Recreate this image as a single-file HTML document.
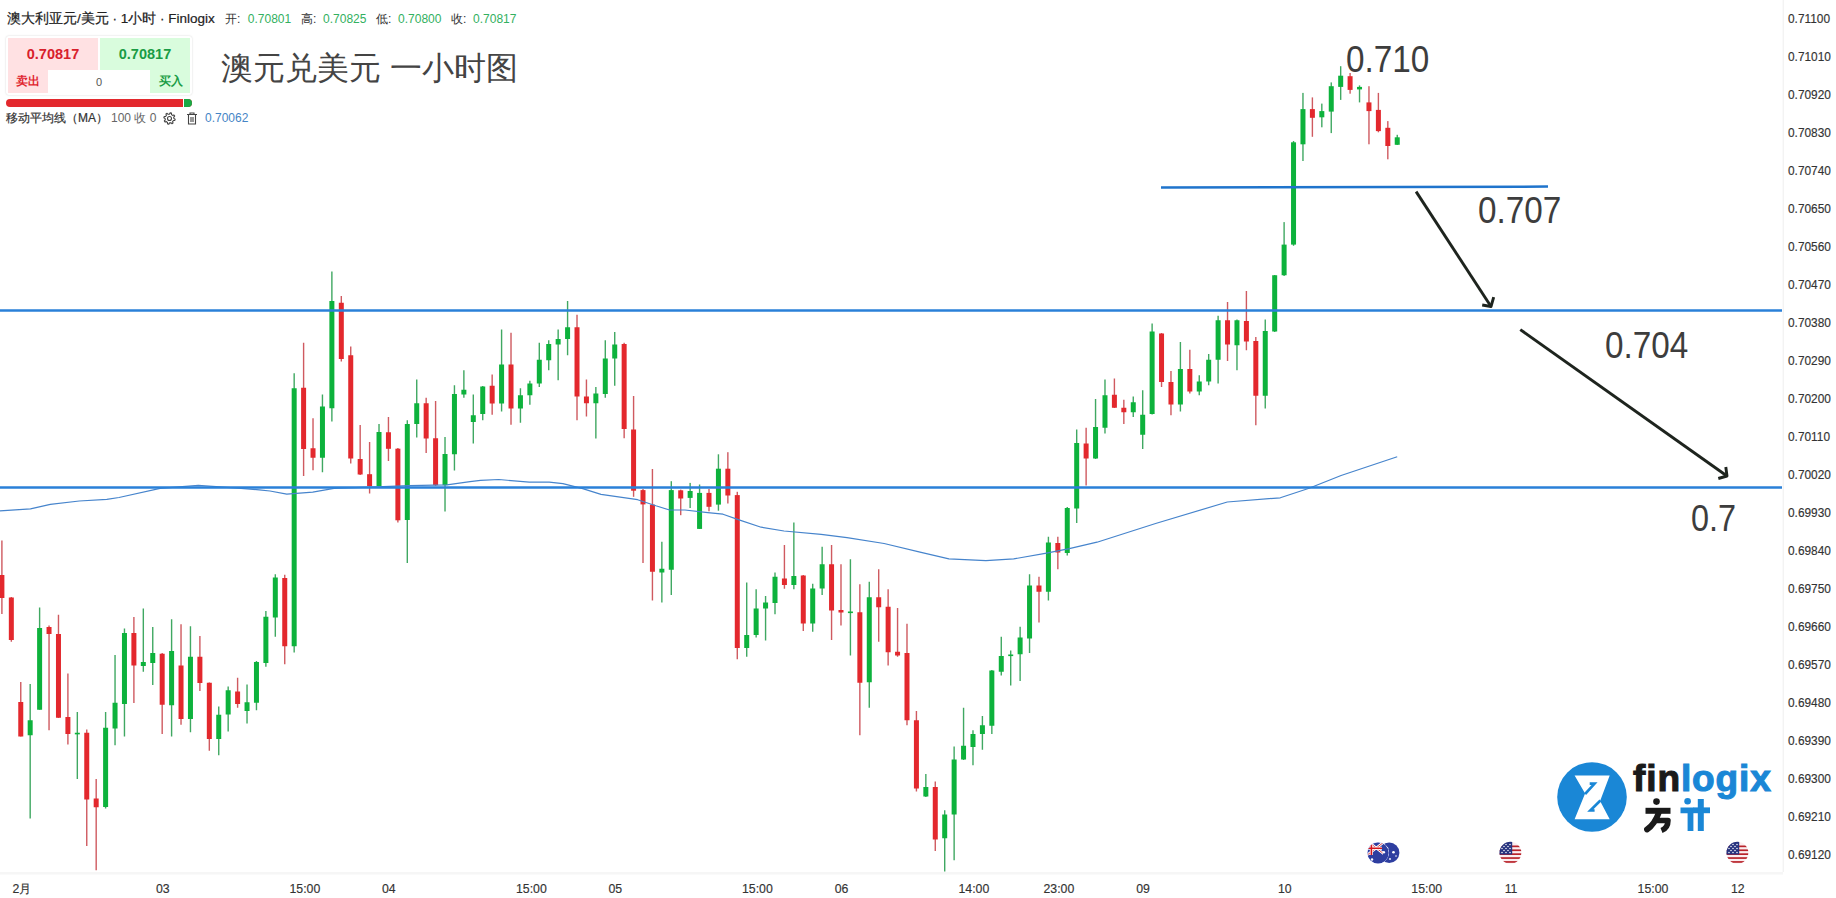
<!DOCTYPE html>
<html><head><meta charset="utf-8">
<style>
html,body{margin:0;padding:0;background:#fff;}
body{width:1836px;height:898px;position:relative;overflow:hidden;font-family:"Liberation Sans",sans-serif;color:#333;}
.a{position:absolute;white-space:nowrap;}
.pl{position:absolute;left:1787.5px;font-size:12.3px;line-height:14px;color:#333;transform:scaleX(0.965);transform-origin:0 0;-webkit-text-stroke:0.15px #333;}
.tl{position:absolute;top:881.5px;font-size:12.3px;line-height:14px;color:#333;-webkit-text-stroke:0.15px #333;}
.ann{position:absolute;font-size:36px;line-height:36px;color:#3d3d3d;transform-origin:0 0;}
svg{position:absolute;left:0;top:0;}
</style></head><body>
<svg width="1836" height="898" viewBox="0 0 1836 898">
<rect x="1.20" y="540.50" width="1.4" height="73.50" fill="#cf5a60"/>
<rect x="-0.60" y="575.00" width="5.0" height="23.00" fill="#e3282d"/>
<rect x="10.63" y="597.00" width="1.4" height="44.75" fill="#cf5a60"/>
<rect x="8.83" y="597.50" width="5.0" height="42.50" fill="#e3282d"/>
<rect x="20.06" y="682.00" width="1.4" height="54.50" fill="#cf5a60"/>
<rect x="18.26" y="702.00" width="5.0" height="34.50" fill="#e3282d"/>
<rect x="29.48" y="684.00" width="1.4" height="134.50" fill="#40a862"/>
<rect x="27.68" y="720.25" width="5.0" height="15.00" fill="#0db23c"/>
<rect x="38.91" y="607.50" width="1.4" height="102.25" fill="#40a862"/>
<rect x="37.11" y="628.00" width="5.0" height="81.75" fill="#0db23c"/>
<rect x="48.34" y="625.50" width="1.4" height="104.75" fill="#cf5a60"/>
<rect x="46.54" y="627.00" width="5.0" height="7.00" fill="#e3282d"/>
<rect x="57.77" y="614.75" width="1.4" height="103.25" fill="#cf5a60"/>
<rect x="55.97" y="634.00" width="5.0" height="83.75" fill="#e3282d"/>
<rect x="67.20" y="673.50" width="1.4" height="71.00" fill="#cf5a60"/>
<rect x="65.40" y="717.00" width="5.0" height="17.00" fill="#e3282d"/>
<rect x="76.62" y="712.00" width="1.4" height="67.00" fill="#40a862"/>
<rect x="74.82" y="732.75" width="5.0" height="1.60" fill="#0db23c"/>
<rect x="86.05" y="729.50" width="1.4" height="116.50" fill="#cf5a60"/>
<rect x="84.25" y="732.75" width="5.0" height="66.75" fill="#e3282d"/>
<rect x="95.48" y="779.00" width="1.4" height="91.25" fill="#cf5a60"/>
<rect x="93.68" y="798.50" width="5.0" height="8.75" fill="#e3282d"/>
<rect x="104.91" y="712.00" width="1.4" height="96.50" fill="#40a862"/>
<rect x="103.11" y="727.75" width="5.0" height="79.25" fill="#0db23c"/>
<rect x="114.34" y="655.00" width="1.4" height="90.25" fill="#40a862"/>
<rect x="112.54" y="702.75" width="5.0" height="25.75" fill="#0db23c"/>
<rect x="123.76" y="628.50" width="1.4" height="108.00" fill="#40a862"/>
<rect x="121.96" y="633.00" width="5.0" height="71.00" fill="#0db23c"/>
<rect x="133.19" y="617.00" width="1.4" height="86.00" fill="#cf5a60"/>
<rect x="131.39" y="633.00" width="5.0" height="32.50" fill="#e3282d"/>
<rect x="142.62" y="608.50" width="1.4" height="63.25" fill="#40a862"/>
<rect x="140.82" y="662.00" width="5.0" height="4.00" fill="#0db23c"/>
<rect x="152.05" y="627.00" width="1.4" height="58.00" fill="#40a862"/>
<rect x="150.25" y="653.00" width="5.0" height="10.00" fill="#0db23c"/>
<rect x="161.48" y="653.00" width="1.4" height="81.00" fill="#cf5a60"/>
<rect x="159.68" y="653.75" width="5.0" height="51.00" fill="#e3282d"/>
<rect x="170.90" y="619.25" width="1.4" height="117.25" fill="#40a862"/>
<rect x="169.10" y="651.00" width="5.0" height="54.25" fill="#0db23c"/>
<rect x="180.33" y="624.25" width="1.4" height="100.50" fill="#cf5a60"/>
<rect x="178.53" y="665.50" width="5.0" height="53.50" fill="#e3282d"/>
<rect x="189.76" y="626.25" width="1.4" height="106.00" fill="#40a862"/>
<rect x="187.96" y="656.75" width="5.0" height="62.25" fill="#0db23c"/>
<rect x="199.19" y="636.00" width="1.4" height="55.00" fill="#cf5a60"/>
<rect x="197.39" y="656.75" width="5.0" height="26.25" fill="#e3282d"/>
<rect x="208.62" y="682.50" width="1.4" height="68.25" fill="#cf5a60"/>
<rect x="206.82" y="682.75" width="5.0" height="56.25" fill="#e3282d"/>
<rect x="218.04" y="706.50" width="1.4" height="48.75" fill="#40a862"/>
<rect x="216.24" y="714.75" width="5.0" height="24.25" fill="#0db23c"/>
<rect x="227.47" y="686.50" width="1.4" height="45.00" fill="#40a862"/>
<rect x="225.67" y="690.25" width="5.0" height="24.25" fill="#0db23c"/>
<rect x="236.90" y="677.75" width="1.4" height="30.00" fill="#cf5a60"/>
<rect x="235.10" y="691.50" width="5.0" height="12.50" fill="#e3282d"/>
<rect x="246.33" y="684.50" width="1.4" height="39.00" fill="#40a862"/>
<rect x="244.53" y="702.25" width="5.0" height="8.75" fill="#0db23c"/>
<rect x="255.76" y="661.00" width="1.4" height="49.25" fill="#40a862"/>
<rect x="253.96" y="662.00" width="5.0" height="40.75" fill="#0db23c"/>
<rect x="265.18" y="611.00" width="1.4" height="55.75" fill="#40a862"/>
<rect x="263.38" y="616.75" width="5.0" height="46.25" fill="#0db23c"/>
<rect x="274.61" y="574.25" width="1.4" height="62.50" fill="#40a862"/>
<rect x="272.81" y="577.50" width="5.0" height="40.00" fill="#0db23c"/>
<rect x="284.04" y="574.75" width="1.4" height="89.50" fill="#cf5a60"/>
<rect x="282.24" y="578.00" width="5.0" height="68.25" fill="#e3282d"/>
<rect x="293.47" y="373.25" width="1.4" height="279.25" fill="#40a862"/>
<rect x="291.67" y="388.25" width="5.0" height="258.00" fill="#0db23c"/>
<rect x="302.90" y="342.75" width="1.4" height="133.25" fill="#cf5a60"/>
<rect x="301.10" y="387.75" width="5.0" height="61.25" fill="#e3282d"/>
<rect x="312.32" y="418.25" width="1.4" height="52.00" fill="#cf5a60"/>
<rect x="310.52" y="448.25" width="5.0" height="9.50" fill="#e3282d"/>
<rect x="321.75" y="394.50" width="1.4" height="77.75" fill="#40a862"/>
<rect x="319.95" y="406.50" width="5.0" height="51.25" fill="#0db23c"/>
<rect x="331.18" y="271.50" width="1.4" height="150.00" fill="#40a862"/>
<rect x="329.38" y="301.00" width="5.0" height="107.25" fill="#0db23c"/>
<rect x="340.61" y="296.00" width="1.4" height="65.50" fill="#cf5a60"/>
<rect x="338.81" y="302.75" width="5.0" height="56.25" fill="#e3282d"/>
<rect x="350.04" y="346.50" width="1.4" height="117.00" fill="#cf5a60"/>
<rect x="348.24" y="355.25" width="5.0" height="103.25" fill="#e3282d"/>
<rect x="359.46" y="425.00" width="1.4" height="50.00" fill="#cf5a60"/>
<rect x="357.66" y="459.00" width="5.0" height="15.50" fill="#e3282d"/>
<rect x="368.89" y="442.00" width="1.4" height="51.50" fill="#cf5a60"/>
<rect x="367.09" y="474.20" width="5.0" height="12.00" fill="#e3282d"/>
<rect x="378.32" y="424.00" width="1.4" height="62.50" fill="#40a862"/>
<rect x="376.52" y="432.00" width="5.0" height="54.20" fill="#0db23c"/>
<rect x="387.75" y="417.00" width="1.4" height="44.00" fill="#cf5a60"/>
<rect x="385.95" y="432.25" width="5.0" height="16.55" fill="#e3282d"/>
<rect x="397.18" y="448.00" width="1.4" height="74.50" fill="#cf5a60"/>
<rect x="395.38" y="448.70" width="5.0" height="71.60" fill="#e3282d"/>
<rect x="406.60" y="420.25" width="1.4" height="142.75" fill="#40a862"/>
<rect x="404.80" y="424.00" width="5.0" height="96.00" fill="#0db23c"/>
<rect x="416.03" y="379.50" width="1.4" height="58.00" fill="#40a862"/>
<rect x="414.23" y="403.25" width="5.0" height="20.75" fill="#0db23c"/>
<rect x="425.46" y="397.75" width="1.4" height="55.25" fill="#cf5a60"/>
<rect x="423.66" y="403.25" width="5.0" height="35.25" fill="#e3282d"/>
<rect x="434.89" y="401.00" width="1.4" height="85.00" fill="#cf5a60"/>
<rect x="433.09" y="438.25" width="5.0" height="46.95" fill="#e3282d"/>
<rect x="444.32" y="437.00" width="1.4" height="74.50" fill="#40a862"/>
<rect x="442.52" y="454.00" width="5.0" height="31.20" fill="#0db23c"/>
<rect x="453.74" y="385.25" width="1.4" height="85.25" fill="#40a862"/>
<rect x="451.94" y="394.00" width="5.0" height="60.25" fill="#0db23c"/>
<rect x="463.17" y="370.25" width="1.4" height="27.50" fill="#40a862"/>
<rect x="461.37" y="389.75" width="5.0" height="4.75" fill="#0db23c"/>
<rect x="472.60" y="394.50" width="1.4" height="49.00" fill="#40a862"/>
<rect x="470.80" y="415.25" width="5.0" height="6.75" fill="#0db23c"/>
<rect x="482.03" y="386.00" width="1.4" height="34.25" fill="#40a862"/>
<rect x="480.23" y="386.50" width="5.0" height="27.50" fill="#0db23c"/>
<rect x="491.46" y="374.50" width="1.4" height="40.25" fill="#cf5a60"/>
<rect x="489.66" y="385.75" width="5.0" height="17.75" fill="#e3282d"/>
<rect x="500.88" y="329.50" width="1.4" height="82.00" fill="#40a862"/>
<rect x="499.08" y="364.50" width="5.0" height="39.00" fill="#0db23c"/>
<rect x="510.31" y="332.75" width="1.4" height="92.00" fill="#cf5a60"/>
<rect x="508.51" y="364.50" width="5.0" height="44.00" fill="#e3282d"/>
<rect x="519.74" y="388.25" width="1.4" height="34.50" fill="#40a862"/>
<rect x="517.94" y="395.25" width="5.0" height="13.25" fill="#0db23c"/>
<rect x="529.17" y="380.75" width="1.4" height="24.00" fill="#40a862"/>
<rect x="527.37" y="383.50" width="5.0" height="11.75" fill="#0db23c"/>
<rect x="538.60" y="342.75" width="1.4" height="44.25" fill="#40a862"/>
<rect x="536.80" y="359.75" width="5.0" height="23.75" fill="#0db23c"/>
<rect x="548.02" y="340.25" width="1.4" height="30.00" fill="#40a862"/>
<rect x="546.22" y="344.00" width="5.0" height="16.25" fill="#0db23c"/>
<rect x="557.45" y="329.50" width="1.4" height="50.75" fill="#40a862"/>
<rect x="555.65" y="339.00" width="5.0" height="5.50" fill="#0db23c"/>
<rect x="566.88" y="301.00" width="1.4" height="54.25" fill="#40a862"/>
<rect x="565.08" y="327.25" width="5.0" height="11.75" fill="#0db23c"/>
<rect x="576.31" y="314.75" width="1.4" height="105.50" fill="#cf5a60"/>
<rect x="574.51" y="327.25" width="5.0" height="69.25" fill="#e3282d"/>
<rect x="585.74" y="379.50" width="1.4" height="37.00" fill="#cf5a60"/>
<rect x="583.94" y="396.50" width="5.0" height="6.75" fill="#e3282d"/>
<rect x="595.16" y="387.00" width="1.4" height="51.50" fill="#40a862"/>
<rect x="593.36" y="393.50" width="5.0" height="9.75" fill="#0db23c"/>
<rect x="604.59" y="340.25" width="1.4" height="57.50" fill="#40a862"/>
<rect x="602.79" y="358.50" width="5.0" height="35.50" fill="#0db23c"/>
<rect x="614.02" y="332.00" width="1.4" height="53.75" fill="#40a862"/>
<rect x="612.22" y="344.50" width="5.0" height="14.00" fill="#0db23c"/>
<rect x="623.45" y="342.75" width="1.4" height="95.50" fill="#cf5a60"/>
<rect x="621.65" y="344.00" width="5.0" height="85.00" fill="#e3282d"/>
<rect x="632.88" y="396.00" width="1.4" height="100.80" fill="#cf5a60"/>
<rect x="631.08" y="429.50" width="5.0" height="61.20" fill="#e3282d"/>
<rect x="642.30" y="489.00" width="1.4" height="74.00" fill="#cf5a60"/>
<rect x="640.50" y="490.10" width="5.0" height="14.30" fill="#e3282d"/>
<rect x="651.73" y="469.00" width="1.4" height="131.50" fill="#cf5a60"/>
<rect x="649.93" y="504.60" width="5.0" height="67.15" fill="#e3282d"/>
<rect x="661.16" y="541.75" width="1.4" height="60.75" fill="#40a862"/>
<rect x="659.36" y="568.75" width="5.0" height="3.75" fill="#0db23c"/>
<rect x="670.59" y="481.20" width="1.4" height="113.80" fill="#40a862"/>
<rect x="668.79" y="490.10" width="5.0" height="79.65" fill="#0db23c"/>
<rect x="680.02" y="489.60" width="1.4" height="25.60" fill="#cf5a60"/>
<rect x="678.22" y="490.30" width="5.0" height="8.20" fill="#e3282d"/>
<rect x="689.44" y="482.90" width="1.4" height="25.10" fill="#40a862"/>
<rect x="687.64" y="491.00" width="5.0" height="6.90" fill="#0db23c"/>
<rect x="698.87" y="484.50" width="1.4" height="44.50" fill="#40a862"/>
<rect x="697.07" y="492.90" width="5.0" height="36.00" fill="#0db23c"/>
<rect x="708.30" y="489.00" width="1.4" height="22.30" fill="#cf5a60"/>
<rect x="706.50" y="492.90" width="5.0" height="13.90" fill="#e3282d"/>
<rect x="717.73" y="454.30" width="1.4" height="56.40" fill="#40a862"/>
<rect x="715.93" y="468.70" width="5.0" height="35.90" fill="#0db23c"/>
<rect x="727.16" y="452.20" width="1.4" height="51.30" fill="#cf5a60"/>
<rect x="725.36" y="468.70" width="5.0" height="26.80" fill="#e3282d"/>
<rect x="736.58" y="491.80" width="1.4" height="167.45" fill="#cf5a60"/>
<rect x="734.78" y="495.10" width="5.0" height="152.90" fill="#e3282d"/>
<rect x="746.01" y="582.50" width="1.4" height="74.25" fill="#40a862"/>
<rect x="744.21" y="635.00" width="5.0" height="13.00" fill="#0db23c"/>
<rect x="755.44" y="589.25" width="1.4" height="48.25" fill="#40a862"/>
<rect x="753.64" y="608.50" width="5.0" height="26.50" fill="#0db23c"/>
<rect x="764.87" y="596.00" width="1.4" height="44.50" fill="#40a862"/>
<rect x="763.07" y="602.50" width="5.0" height="6.00" fill="#0db23c"/>
<rect x="774.30" y="572.50" width="1.4" height="41.75" fill="#40a862"/>
<rect x="772.50" y="576.75" width="5.0" height="26.25" fill="#0db23c"/>
<rect x="783.72" y="545.00" width="1.4" height="43.75" fill="#cf5a60"/>
<rect x="781.92" y="578.50" width="5.0" height="6.50" fill="#e3282d"/>
<rect x="793.15" y="522.50" width="1.4" height="66.75" fill="#40a862"/>
<rect x="791.35" y="576.00" width="5.0" height="9.00" fill="#0db23c"/>
<rect x="802.58" y="575.00" width="1.4" height="56.00" fill="#cf5a60"/>
<rect x="800.78" y="575.50" width="5.0" height="48.00" fill="#e3282d"/>
<rect x="812.01" y="583.75" width="1.4" height="48.00" fill="#40a862"/>
<rect x="810.21" y="588.50" width="5.0" height="35.00" fill="#0db23c"/>
<rect x="821.44" y="546.75" width="1.4" height="48.25" fill="#40a862"/>
<rect x="819.64" y="564.25" width="5.0" height="24.25" fill="#0db23c"/>
<rect x="830.86" y="545.00" width="1.4" height="95.00" fill="#cf5a60"/>
<rect x="829.06" y="564.25" width="5.0" height="46.25" fill="#e3282d"/>
<rect x="840.29" y="564.25" width="1.4" height="61.25" fill="#cf5a60"/>
<rect x="838.49" y="610.00" width="5.0" height="2.50" fill="#e3282d"/>
<rect x="849.72" y="559.25" width="1.4" height="96.25" fill="#40a862"/>
<rect x="847.92" y="611.50" width="5.0" height="1.60" fill="#0db23c"/>
<rect x="859.15" y="584.25" width="1.4" height="151.00" fill="#cf5a60"/>
<rect x="857.35" y="612.25" width="5.0" height="70.50" fill="#e3282d"/>
<rect x="868.58" y="581.75" width="1.4" height="126.00" fill="#40a862"/>
<rect x="866.78" y="597.25" width="5.0" height="85.00" fill="#0db23c"/>
<rect x="878.00" y="569.25" width="1.4" height="72.50" fill="#cf5a60"/>
<rect x="876.20" y="597.25" width="5.0" height="10.00" fill="#e3282d"/>
<rect x="887.43" y="589.25" width="1.4" height="76.25" fill="#cf5a60"/>
<rect x="885.63" y="606.75" width="5.0" height="45.50" fill="#e3282d"/>
<rect x="896.86" y="608.00" width="1.4" height="48.75" fill="#cf5a60"/>
<rect x="895.06" y="651.75" width="5.0" height="3.75" fill="#e3282d"/>
<rect x="906.29" y="623.75" width="1.4" height="101.50" fill="#cf5a60"/>
<rect x="904.49" y="653.00" width="5.0" height="67.25" fill="#e3282d"/>
<rect x="915.72" y="711.00" width="1.4" height="80.50" fill="#cf5a60"/>
<rect x="913.92" y="720.25" width="5.0" height="68.25" fill="#e3282d"/>
<rect x="925.14" y="774.00" width="1.4" height="23.00" fill="#40a862"/>
<rect x="923.34" y="787.00" width="5.0" height="9.50" fill="#0db23c"/>
<rect x="934.57" y="781.50" width="1.4" height="69.50" fill="#cf5a60"/>
<rect x="932.77" y="787.00" width="5.0" height="52.50" fill="#e3282d"/>
<rect x="944.00" y="810.25" width="1.4" height="61.25" fill="#40a862"/>
<rect x="942.20" y="814.50" width="5.0" height="23.75" fill="#0db23c"/>
<rect x="953.43" y="746.50" width="1.4" height="113.75" fill="#40a862"/>
<rect x="951.63" y="759.50" width="5.0" height="55.00" fill="#0db23c"/>
<rect x="962.86" y="707.75" width="1.4" height="52.25" fill="#40a862"/>
<rect x="961.06" y="745.75" width="5.0" height="13.75" fill="#0db23c"/>
<rect x="972.28" y="730.25" width="1.4" height="35.00" fill="#40a862"/>
<rect x="970.48" y="734.00" width="5.0" height="13.00" fill="#0db23c"/>
<rect x="981.71" y="716.00" width="1.4" height="33.75" fill="#40a862"/>
<rect x="979.91" y="725.25" width="5.0" height="8.75" fill="#0db23c"/>
<rect x="991.14" y="670.00" width="1.4" height="64.00" fill="#40a862"/>
<rect x="989.34" y="670.50" width="5.0" height="55.25" fill="#0db23c"/>
<rect x="1000.57" y="636.75" width="1.4" height="38.75" fill="#40a862"/>
<rect x="998.77" y="656.00" width="5.0" height="15.75" fill="#0db23c"/>
<rect x="1010.00" y="650.50" width="1.4" height="35.00" fill="#40a862"/>
<rect x="1008.20" y="654.50" width="5.0" height="1.60" fill="#0db23c"/>
<rect x="1019.42" y="626.75" width="1.4" height="54.25" fill="#40a862"/>
<rect x="1017.62" y="637.50" width="5.0" height="16.75" fill="#0db23c"/>
<rect x="1028.85" y="574.25" width="1.4" height="78.75" fill="#40a862"/>
<rect x="1027.05" y="585.50" width="5.0" height="53.00" fill="#0db23c"/>
<rect x="1038.28" y="576.75" width="1.4" height="45.75" fill="#cf5a60"/>
<rect x="1036.48" y="585.50" width="5.0" height="6.25" fill="#e3282d"/>
<rect x="1047.71" y="536.75" width="1.4" height="63.75" fill="#40a862"/>
<rect x="1045.91" y="542.50" width="5.0" height="49.25" fill="#0db23c"/>
<rect x="1057.14" y="536.75" width="1.4" height="32.50" fill="#cf5a60"/>
<rect x="1055.34" y="543.00" width="5.0" height="9.50" fill="#e3282d"/>
<rect x="1066.56" y="507.00" width="1.4" height="48.50" fill="#40a862"/>
<rect x="1064.76" y="508.00" width="5.0" height="45.00" fill="#0db23c"/>
<rect x="1075.99" y="429.50" width="1.4" height="93.50" fill="#40a862"/>
<rect x="1074.19" y="443.00" width="5.0" height="65.50" fill="#0db23c"/>
<rect x="1085.42" y="427.75" width="1.4" height="57.75" fill="#cf5a60"/>
<rect x="1083.62" y="443.50" width="5.0" height="15.00" fill="#e3282d"/>
<rect x="1094.85" y="399.00" width="1.4" height="60.00" fill="#40a862"/>
<rect x="1093.05" y="427.00" width="5.0" height="31.50" fill="#0db23c"/>
<rect x="1104.28" y="379.50" width="1.4" height="54.00" fill="#40a862"/>
<rect x="1102.48" y="395.25" width="5.0" height="32.50" fill="#0db23c"/>
<rect x="1113.70" y="378.50" width="1.4" height="29.50" fill="#cf5a60"/>
<rect x="1111.90" y="394.75" width="5.0" height="13.00" fill="#e3282d"/>
<rect x="1123.13" y="399.75" width="1.4" height="24.25" fill="#cf5a60"/>
<rect x="1121.33" y="407.75" width="5.0" height="4.50" fill="#e3282d"/>
<rect x="1132.56" y="396.50" width="1.4" height="20.50" fill="#40a862"/>
<rect x="1130.76" y="402.25" width="5.0" height="10.00" fill="#0db23c"/>
<rect x="1141.99" y="390.25" width="1.4" height="58.75" fill="#40a862"/>
<rect x="1140.19" y="414.75" width="5.0" height="20.00" fill="#0db23c"/>
<rect x="1151.42" y="323.50" width="1.4" height="91.00" fill="#40a862"/>
<rect x="1149.62" y="331.50" width="5.0" height="82.50" fill="#0db23c"/>
<rect x="1160.84" y="333.00" width="1.4" height="54.00" fill="#cf5a60"/>
<rect x="1159.04" y="333.50" width="5.0" height="48.50" fill="#e3282d"/>
<rect x="1170.27" y="371.00" width="1.4" height="44.25" fill="#cf5a60"/>
<rect x="1168.47" y="382.00" width="5.0" height="22.50" fill="#e3282d"/>
<rect x="1179.70" y="342.00" width="1.4" height="69.50" fill="#40a862"/>
<rect x="1177.90" y="369.00" width="5.0" height="35.50" fill="#0db23c"/>
<rect x="1189.13" y="349.75" width="1.4" height="43.75" fill="#cf5a60"/>
<rect x="1187.33" y="369.00" width="5.0" height="22.50" fill="#e3282d"/>
<rect x="1198.56" y="375.25" width="1.4" height="20.00" fill="#40a862"/>
<rect x="1196.76" y="381.50" width="5.0" height="10.00" fill="#0db23c"/>
<rect x="1207.98" y="354.00" width="1.4" height="31.25" fill="#40a862"/>
<rect x="1206.18" y="359.75" width="5.0" height="21.75" fill="#0db23c"/>
<rect x="1217.41" y="315.75" width="1.4" height="67.75" fill="#40a862"/>
<rect x="1215.61" y="320.25" width="5.0" height="39.50" fill="#0db23c"/>
<rect x="1226.84" y="302.00" width="1.4" height="59.00" fill="#cf5a60"/>
<rect x="1225.04" y="320.25" width="5.0" height="24.25" fill="#e3282d"/>
<rect x="1236.27" y="319.50" width="1.4" height="50.75" fill="#40a862"/>
<rect x="1234.47" y="320.25" width="5.0" height="25.00" fill="#0db23c"/>
<rect x="1245.70" y="291.00" width="1.4" height="59.25" fill="#cf5a60"/>
<rect x="1243.90" y="321.00" width="5.0" height="20.50" fill="#e3282d"/>
<rect x="1255.12" y="337.00" width="1.4" height="88.25" fill="#cf5a60"/>
<rect x="1253.32" y="341.00" width="5.0" height="54.75" fill="#e3282d"/>
<rect x="1264.55" y="319.50" width="1.4" height="89.00" fill="#40a862"/>
<rect x="1262.75" y="331.00" width="5.0" height="64.75" fill="#0db23c"/>
<rect x="1273.98" y="275.00" width="1.4" height="57.00" fill="#40a862"/>
<rect x="1272.18" y="275.25" width="5.0" height="56.25" fill="#0db23c"/>
<rect x="1283.41" y="222.10" width="1.4" height="53.90" fill="#40a862"/>
<rect x="1281.61" y="244.60" width="5.0" height="30.65" fill="#0db23c"/>
<rect x="1292.84" y="141.00" width="1.4" height="104.80" fill="#40a862"/>
<rect x="1291.04" y="142.30" width="5.0" height="102.30" fill="#0db23c"/>
<rect x="1302.26" y="92.90" width="1.4" height="68.10" fill="#40a862"/>
<rect x="1300.46" y="109.10" width="5.0" height="35.20" fill="#0db23c"/>
<rect x="1311.69" y="97.40" width="1.4" height="39.40" fill="#cf5a60"/>
<rect x="1309.89" y="109.10" width="5.0" height="8.70" fill="#e3282d"/>
<rect x="1321.12" y="103.60" width="1.4" height="23.70" fill="#40a862"/>
<rect x="1319.32" y="111.10" width="5.0" height="6.20" fill="#0db23c"/>
<rect x="1330.55" y="82.40" width="1.4" height="50.70" fill="#40a862"/>
<rect x="1328.75" y="86.20" width="5.0" height="25.40" fill="#0db23c"/>
<rect x="1339.98" y="66.20" width="1.4" height="33.70" fill="#40a862"/>
<rect x="1338.18" y="75.70" width="5.0" height="11.20" fill="#0db23c"/>
<rect x="1349.40" y="73.00" width="1.4" height="20.70" fill="#cf5a60"/>
<rect x="1347.60" y="76.20" width="5.0" height="13.70" fill="#e3282d"/>
<rect x="1358.83" y="85.40" width="1.4" height="17.00" fill="#40a862"/>
<rect x="1357.03" y="86.90" width="5.0" height="2.50" fill="#0db23c"/>
<rect x="1368.26" y="86.20" width="1.4" height="58.10" fill="#cf5a60"/>
<rect x="1366.46" y="102.40" width="5.0" height="8.70" fill="#e3282d"/>
<rect x="1377.69" y="92.90" width="1.4" height="39.40" fill="#cf5a60"/>
<rect x="1375.89" y="109.90" width="5.0" height="21.20" fill="#e3282d"/>
<rect x="1387.12" y="121.10" width="1.4" height="38.20" fill="#cf5a60"/>
<rect x="1385.32" y="127.80" width="5.0" height="18.20" fill="#e3282d"/>
<rect x="1396.54" y="134.80" width="1.4" height="10.20" fill="#40a862"/>
<rect x="1394.74" y="137.30" width="5.0" height="7.50" fill="#0db23c"/>
<polyline points="0,510.9 30.5,508.9 50.3,504.3 79.3,501 106.8,499.3 119,497.5 160.1,488.3 198.3,485.3 241,488.3 259.3,489.8 270,491 286.8,494.1 312.7,492.1 334,488.3 376.8,486.8 409,485.6 447,484.8 470,481.6 480.5,480.4 498.8,479.5 529.3,482.2 549.2,482.2 562.9,483.7 582.7,488.6 601,494.4 637.6,499.7 655.9,505.8 669.6,510 684.9,510 707.8,512.7 723,514.2 738.3,519.6 761.1,527.2 784,531 821.1,534.3 847,537.6 884.1,543.5 921.1,552.4 948.9,558.9 985.9,560.7 1013.7,558.9 1045.2,553.3 1069.3,548.7 1097,542.2 1155.6,523.5 1227.3,502 1280.3,497.8 1308.4,488.5 1341.1,475.5 1397.2,456.8" fill="none" stroke="#4684cc" stroke-width="1.2" stroke-linejoin="round"/>
<line x1="0" y1="310.5" x2="1782" y2="310.5" stroke="#2a80d8" stroke-width="2.7"/>
<line x1="0" y1="487.5" x2="1782" y2="487.5" stroke="#2a80d8" stroke-width="2.7"/>
<line x1="1161" y1="187.6" x2="1548" y2="186.6" stroke="#1f74cc" stroke-width="2.5"/>
<line x1="1416.1" y1="191.6" x2="1491" y2="306.5" stroke="#1e241e" stroke-width="2.9"/>
<polyline points="1482.2,305.0 1491,306.5 1493.7,297.1" fill="none" stroke="#1e241e" stroke-width="2.9" stroke-linejoin="round"/>
<line x1="1520.3" y1="329.6" x2="1727" y2="476" stroke="#1e241e" stroke-width="2.9"/>
<polyline points="1718.3,478.5 1727,476 1725.8,467" fill="none" stroke="#1e241e" stroke-width="2.9" stroke-linejoin="round"/>
<line x1="1783.3" y1="0" x2="1783.3" y2="872" stroke="#f3f3f3" stroke-width="1.5"/>
<line x1="0" y1="873.3" x2="1783" y2="873.3" stroke="#f6f6f6" stroke-width="2.5"/>
</svg>
<div class="pl" style="top:11.5px">0.71100</div>
<div class="pl" style="top:49.5px">0.71010</div>
<div class="pl" style="top:87.5px">0.70920</div>
<div class="pl" style="top:125.5px">0.70830</div>
<div class="pl" style="top:163.5px">0.70740</div>
<div class="pl" style="top:201.5px">0.70650</div>
<div class="pl" style="top:239.6px">0.70560</div>
<div class="pl" style="top:277.6px">0.70470</div>
<div class="pl" style="top:315.6px">0.70380</div>
<div class="pl" style="top:353.6px">0.70290</div>
<div class="pl" style="top:391.6px">0.70200</div>
<div class="pl" style="top:429.6px">0.70110</div>
<div class="pl" style="top:467.6px">0.70020</div>
<div class="pl" style="top:505.6px">0.69930</div>
<div class="pl" style="top:543.6px">0.69840</div>
<div class="pl" style="top:581.6px">0.69750</div>
<div class="pl" style="top:619.7px">0.69660</div>
<div class="pl" style="top:657.7px">0.69570</div>
<div class="pl" style="top:695.7px">0.69480</div>
<div class="pl" style="top:733.7px">0.69390</div>
<div class="pl" style="top:771.7px">0.69300</div>
<div class="pl" style="top:809.7px">0.69210</div>
<div class="pl" style="top:847.7px">0.69120</div>
<div class="tl" style="left:12.5px">2月</div>
<div class="tl" style="left:156px">03</div>
<div class="tl" style="left:289.5px">15:00</div>
<div class="tl" style="left:382px">04</div>
<div class="tl" style="left:516px">15:00</div>
<div class="tl" style="left:608.5px">05</div>
<div class="tl" style="left:742px">15:00</div>
<div class="tl" style="left:834.75px">06</div>
<div class="tl" style="left:958.5px">14:00</div>
<div class="tl" style="left:1043.5px">23:00</div>
<div class="tl" style="left:1136.25px">09</div>
<div class="tl" style="left:1278px">10</div>
<div class="tl" style="left:1411.3px">15:00</div>
<div class="tl" style="left:1504.7px">11</div>
<div class="tl" style="left:1637.6px">15:00</div>
<div class="tl" style="left:1731px">12</div>
<div class="a" style="left:7px;top:11px;font-size:13.5px;line-height:16px;color:#222;-webkit-text-stroke:0.2px #222;">澳大利亚元/美元 · 1小时 · Finlogix</div>
<div class="a" style="left:225px;top:11px;font-size:12px;line-height:16px;color:#333;">开:</div>
<div class="a" style="left:247.8px;top:11px;font-size:12px;line-height:16px;color:#33b060;">0.70801</div>
<div class="a" style="left:301px;top:11px;font-size:12px;line-height:16px;color:#333;">高:</div>
<div class="a" style="left:323.1px;top:11px;font-size:12px;line-height:16px;color:#33b060;">0.70825</div>
<div class="a" style="left:376px;top:11px;font-size:12px;line-height:16px;color:#333;">低:</div>
<div class="a" style="left:398.1px;top:11px;font-size:12px;line-height:16px;color:#33b060;">0.70800</div>
<div class="a" style="left:451px;top:11px;font-size:12px;line-height:16px;color:#333;">收:</div>
<div class="a" style="left:473.1px;top:11px;font-size:12px;line-height:16px;color:#33b060;">0.70817</div>

<div class="a" style="left:6px;top:36px;width:186px;height:59px;border-radius:3px;box-shadow:0 0 2px rgba(0,0,0,0.18);background:#fff;"></div>
<div class="a" style="left:8px;top:38px;width:90.4px;height:55.2px;background:#ffe1e3;"></div>
<div class="a" style="left:100px;top:38px;width:90px;height:55.2px;background:#d9fcdd;"></div>
<div class="a" style="left:48px;top:70px;width:102.3px;height:23.2px;background:#fff;"></div>
<div class="a" style="left:8px;top:46px;width:90px;text-align:center;font-size:14.5px;line-height:16px;font-weight:bold;color:#d8202c;">0.70817</div>
<div class="a" style="left:100px;top:46px;width:90px;text-align:center;font-size:14.5px;line-height:16px;font-weight:bold;color:#1a9c45;">0.70817</div>
<div class="a" style="left:16px;top:74px;font-size:11.5px;line-height:14px;font-weight:bold;color:#e0242e;">卖出</div>
<div class="a" style="left:159px;top:74px;font-size:11.5px;line-height:14px;font-weight:bold;color:#1a9c45;">买入</div>
<div class="a" style="left:48px;top:75px;width:102px;text-align:center;font-size:11px;line-height:14px;color:#555;">0</div>
<div class="a" style="left:6px;top:99.2px;width:186px;height:7.6px;border-radius:4px;background:#e3282d;overflow:hidden;"><div style="position:absolute;left:176.5px;top:0;width:10px;height:7.6px;background:#1aa845;border-left:1px solid #fff;"></div></div>

<div class="a" style="left:6px;top:110px;font-size:12px;line-height:16px;color:#333;-webkit-text-stroke:0.2px #333;">移动平均线（MA）</div>
<div class="a" style="left:111px;top:110px;font-size:12px;line-height:16px;color:#666;">100 收 0</div>
<svg class="a" style="left:163.2px;top:112.1px;" width="13" height="13" viewBox="0 0 13 13"><path d="M10.90 6.50 L12.16 7.17 L11.85 8.47 L10.42 8.50 L9.61 9.61 L10.03 10.98 L8.89 11.68 L7.86 10.68 L6.50 10.90 L5.83 12.16 L4.53 11.85 L4.50 10.42 L3.39 9.61 L2.02 10.03 L1.32 8.89 L2.32 7.86 L2.10 6.50 L0.84 5.83 L1.15 4.53 L2.58 4.50 L3.39 3.39 L2.97 2.02 L4.11 1.32 L5.14 2.32 L6.50 2.10 L7.17 0.84 L8.47 1.15 L8.50 2.58 L9.61 3.39 L10.98 2.97 L11.68 4.11 L10.68 5.14Z" fill="none" stroke="#444" stroke-width="1.1" stroke-linejoin="round"/><circle cx="6.5" cy="6.5" r="2" fill="none" stroke="#444" stroke-width="1.1"/></svg>
<svg class="a" style="left:186px;top:112px;" width="12" height="13" viewBox="0 0 12 13"><path d="M1 2.5h10M4 2.5v-1.5h4v1.5M2.5 3v9h7v-9M5 5v5M7 5v5" fill="none" stroke="#444" stroke-width="1.1"/></svg>
<div class="a" style="left:205px;top:110px;font-size:12px;line-height:16px;color:#4585c6;">0.70062</div>

<div class="a" style="left:221px;top:50px;font-size:32px;line-height:36px;color:#444;">澳元兑美元 一小时图</div>

<div class="ann" style="left:1346px;top:42px;transform:scaleX(0.925)">0.710</div>
<div class="ann" style="left:1478px;top:193px;transform:scaleX(0.925)">0.707</div>
<div class="ann" style="left:1605px;top:328px;transform:scaleX(0.925)">0.704</div>
<div class="ann" style="left:1691px;top:501px;transform:scaleX(0.9)">0.7</div>

<!-- flags -->
<svg class="a" style="left:1360px;top:838px;" width="46" height="30" viewBox="1360 838 46 30">
<defs><clipPath id="c1"><circle cx="1378" cy="852.8" r="10.4"/></clipPath><clipPath id="c2"><circle cx="1389.2" cy="852.8" r="10.2"/></clipPath></defs>
<g clip-path="url(#c2)"><rect x="1370" y="840" width="32" height="26" fill="#2e3ea0"/><path d="M1380 842 L1388 849" stroke="#fff" stroke-width="2"/><path d="M1382 843 L1387 847" stroke="#c8282e" stroke-width="1"/><circle cx="1393.5" cy="852.3" r="1.3" fill="#fff"/><circle cx="1390" cy="859" r="0.9" fill="#fff"/><circle cx="1396" cy="856" r="0.8" fill="#fff"/></g>
<circle cx="1378" cy="852.8" r="10.9" fill="#dfe3ff"/>
<g clip-path="url(#c1)"><rect x="1366" y="840" width="26" height="26" fill="#2e3ea0"/>
<path d="M1366 840 L1384 854 M1366 856 L1384 842" stroke="#fff" stroke-width="2.6"/>
<path d="M1366 840 L1384 854 M1366 856 L1384 842" stroke="#d02a30" stroke-width="0.9"/>
<path d="M1371.4 840 V855 M1366 848.3 H1382" stroke="#fff" stroke-width="3"/>
<path d="M1371.4 840 V855 M1366 848.3 H1382" stroke="#d4161c" stroke-width="1.6"/>
<rect x="1366" y="855.5" width="26" height="12" fill="#2e3ea0"/><rect x="1383" y="840" width="10" height="26" fill="#2e3ea0"/>
<circle cx="1383.8" cy="852.3" r="1.3" fill="#fff"/><circle cx="1372" cy="859.5" r="1.2" fill="#fff"/></g>
</svg>
<svg class="a" style="left:1498.0px;top:841px;" width="24" height="24" viewBox="0 0 24 24">
<defs><clipPath id="u1510"><circle cx="12.4" cy="11.7" r="10.9"/></clipPath></defs>
<g clip-path="url(#u1510)"><rect x="0" y="0" width="24" height="24" fill="#fbeef0"/>
<rect x="0" y="4.5" width="24" height="1.7" fill="#b8232b"/><rect x="0" y="8.4" width="24" height="1.7" fill="#b8232b"/><rect x="0" y="12.3" width="24" height="1.7" fill="#b8232b"/><rect x="0" y="16.2" width="24" height="1.7" fill="#b8232b"/><rect x="0" y="20.1" width="24" height="1.7" fill="#b8232b"/>
<rect x="0" y="0" width="14.2" height="13.5" fill="#27337f"/><circle cx="4" cy="3.5" r="0.75" fill="#fff"/><circle cx="8" cy="3.5" r="0.75" fill="#fff"/><circle cx="12" cy="3.5" r="0.75" fill="#fff"/><circle cx="6" cy="5.5" r="0.75" fill="#fff"/><circle cx="10" cy="5.5" r="0.75" fill="#fff"/><circle cx="4" cy="7.5" r="0.75" fill="#fff"/><circle cx="8" cy="7.5" r="0.75" fill="#fff"/><circle cx="12" cy="7.5" r="0.75" fill="#fff"/><circle cx="6" cy="9.5" r="0.75" fill="#fff"/><circle cx="10" cy="9.5" r="0.75" fill="#fff"/><circle cx="4" cy="11.5" r="0.75" fill="#fff"/><circle cx="8" cy="11.5" r="0.75" fill="#fff"/><circle cx="12" cy="11.5" r="0.75" fill="#fff"/></g>
</svg>
<svg class="a" style="left:1724.6px;top:841px;" width="24" height="24" viewBox="0 0 24 24">
<defs><clipPath id="u1737"><circle cx="12.4" cy="11.7" r="10.9"/></clipPath></defs>
<g clip-path="url(#u1737)"><rect x="0" y="0" width="24" height="24" fill="#fbeef0"/>
<rect x="0" y="4.5" width="24" height="1.7" fill="#b8232b"/><rect x="0" y="8.4" width="24" height="1.7" fill="#b8232b"/><rect x="0" y="12.3" width="24" height="1.7" fill="#b8232b"/><rect x="0" y="16.2" width="24" height="1.7" fill="#b8232b"/><rect x="0" y="20.1" width="24" height="1.7" fill="#b8232b"/>
<rect x="0" y="0" width="14.2" height="13.5" fill="#27337f"/><circle cx="4" cy="3.5" r="0.75" fill="#fff"/><circle cx="8" cy="3.5" r="0.75" fill="#fff"/><circle cx="12" cy="3.5" r="0.75" fill="#fff"/><circle cx="6" cy="5.5" r="0.75" fill="#fff"/><circle cx="10" cy="5.5" r="0.75" fill="#fff"/><circle cx="4" cy="7.5" r="0.75" fill="#fff"/><circle cx="8" cy="7.5" r="0.75" fill="#fff"/><circle cx="12" cy="7.5" r="0.75" fill="#fff"/><circle cx="6" cy="9.5" r="0.75" fill="#fff"/><circle cx="10" cy="9.5" r="0.75" fill="#fff"/><circle cx="4" cy="11.5" r="0.75" fill="#fff"/><circle cx="8" cy="11.5" r="0.75" fill="#fff"/><circle cx="12" cy="11.5" r="0.75" fill="#fff"/></g>
</svg>
<!-- logo -->
<svg class="a" style="left:1550px;top:755px;" width="240" height="90" viewBox="0 0 240 90">
<circle cx="42" cy="42" r="34.8" fill="#1a87d6"/>
<path d="M24.6 20.5 L59.7 20.5 L50.1 45.9 L59.7 64.3 L24.6 64.3 L35.1 38.4 Z" fill="#fff"/>
<path d="M39.7 28.6 H44.6 L35.1 39 M50.4 45.5 L40.3 55.5 H44.6" fill="none" stroke="#1a87d6" stroke-width="2.6"/>
</svg>
<div class="a" style="left:1633px;top:759px;font-size:37px;line-height:40px;font-weight:bold;letter-spacing:0.9px;color:#1a1a1a;-webkit-text-stroke:1.1px #1a1a1a;">fin<span style="color:#1a87d6;-webkit-text-stroke:1.1px #1a87d6;">logix</span></div>
<svg class="a" style="left:1630px;top:790px;" width="90" height="50" viewBox="1630 790 90 50">
<circle cx="1656.5" cy="801.6" r="3.3" fill="#1a1a1a"/>
<path d="M1645.5 810.8 H1670.5" stroke="#1a1a1a" stroke-width="6" stroke-linecap="butt"/>
<path d="M1659 812 Q1655 824 1647 829.5" fill="none" stroke="#1a1a1a" stroke-width="5.8" stroke-linecap="round"/>
<path d="M1657 820.5 H1668 Q1668 828 1661.5 830.5" fill="none" stroke="#1a1a1a" stroke-width="5.5" stroke-linejoin="round"/>
<circle cx="1687.6" cy="801.3" r="3.3" fill="#1a87d6"/>
<path d="M1680.5 810.3 H1690.5 V831" fill="none" stroke="#1a87d6" stroke-width="5.8"/>
<path d="M1693 810.3 H1710" stroke="#1a87d6" stroke-width="5.8"/>
<path d="M1700.8 799 V831" stroke="#1a87d6" stroke-width="6"/>
</svg>
</body></html>
